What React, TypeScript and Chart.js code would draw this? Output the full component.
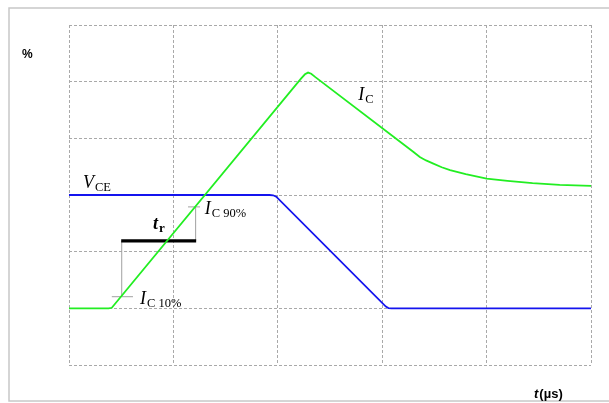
import React, { useEffect, useRef } from "react";
import { Chart, registerables } from "chart.js";

Chart.register(...registerables);

// grid units: x 0..5 (µs divisions), y 0..6 (% divisions)
const xRange = [0, 5];
const yRange = [0, 6];

// collector current I_C
const icX = [0, 0.38, 0.41, 2.22, 2.26, 2.29, 2.32, 2.36, 3.3, 3.36, 3.42, 3.49, 3.57, 3.65, 3.8, 4.0, 4.2, 4.44, 4.7, 5.0];
const icY = [1, 1, 1.01, 5.05, 5.13, 5.16, 5.14, 5.08, 3.76, 3.67, 3.61, 3.555, 3.49, 3.44, 3.37, 3.29, 3.25, 3.21, 3.18, 3.16];

// collector-emitter voltage V_CE
const vceX = [0, 1.92, 1.955, 1.985, 3.035, 3.06, 3.09, 5.0];
const vceY = [3, 3, 2.995, 2.97, 1.03, 1.005, 1, 1];

// annotation markers
const ic10Level = 1.205;
const ic90Level = 2.79;
const trLevel = 2.19;
const trStart = 0.5;
const trEnd = 1.218;
const tick10 = [0.41, 0.613];
const tick90 = [1.14, 1.255];

const toPts = (xs: number[], ys: number[]) => xs.map((x, i) => ({ x, y: ys[i] }));

export default function App() {
  const ref = useRef<HTMLCanvasElement | null>(null);
  useEffect(() => {
    if (!ref.current) return;
    const gridColor = "#a9a9a9";
    const gray = "#a0a0a0";
    const textPlugin = {
      id: "labels",
      afterDraw(chart: any) {
        const ctx = chart.ctx;
        const xs = chart.scales.x;
        const ys = chart.scales.y;
        const px = (v: number) => xs.getPixelForValue(v);
        const py = (v: number) => ys.getPixelForValue(v);
        ctx.save();
        // outer frame
        ctx.strokeStyle = "#c8c8c8";
        ctx.lineWidth = 1.5;
        ctx.strokeRect(9, 8, 700, 393);
        ctx.fillStyle = "#000";
        ctx.textBaseline = "alphabetic";
        ctx.textAlign = "left";
        const sym = (main: string, sub: string, x: number, y: number, bold = false) => {
          ctx.font = (bold ? "italic bold 18px" : "italic 18px") + " 'Liberation Serif'";
          ctx.fillText(main, x, y);
          const w = ctx.measureText(main).width;
          ctx.font = (bold ? "bold 13px" : "12.5px") + " 'Liberation Serif'";
          ctx.fillText(sub, x + w + 1, y + 3);
        };
        sym("V", "CE", px(0.134), py(3.12));
        sym("I", "C", px(2.77), py(4.67));
        sym("I", "C 90%", px(1.3), py(2.66));
        sym("I", "C 10%", px(0.68), py(1.076));
        sym("t", "r", px(0.805), py(2.4), true);
        // axis labels
        ctx.font = "bold 12px 'Liberation Sans'";
        ctx.fillText("%", 22, 58);
        ctx.font = "italic bold 13px 'Liberation Sans'";
        ctx.fillText("t", 534, 398);
        const tw = ctx.measureText("t").width;
        ctx.font = "bold 13px 'Liberation Sans'";
        ctx.fillText("(µs)", 534 + tw + 1, 398);
        ctx.restore();
      },
    };
    const seg = (pts: { x: number; y: number }[], color: string, width: number, order: number) => ({
      data: pts,
      showLine: true,
      borderColor: color,
      backgroundColor: color,
      borderWidth: width,
      pointRadius: 0,
      tension: 0,
      order,
    });
    const chart = new Chart(ref.current, {
      type: "scatter",
      data: {
        datasets: [
          seg(toPts(icX, icY), "#22ee22", 1.8, 1),
          seg(toPts(vceX, vceY), "#1414ee", 1.8, 2),
          seg([{ x: trStart, y: trLevel }, { x: trEnd, y: trLevel }], "#000000", 3.2, 3),
          seg([{ x: tick10[0], y: ic10Level }, { x: tick10[1], y: ic10Level }], gray, 1, 4),
          seg([{ x: trStart + 0.005, y: ic10Level }, { x: trStart + 0.005, y: trLevel }], gray, 1, 4),
          seg([{ x: tick90[0], y: ic90Level }, { x: tick90[1], y: ic90Level }], gray, 1, 4),
          seg([{ x: trEnd - 0.005, y: trLevel }, { x: trEnd - 0.005, y: ic90Level }], gray, 1, 4),
        ] as any,
      },
      options: {
        animation: false,
        responsive: false,
        maintainAspectRatio: false,
        layout: { padding: { left: 69, top: 25, right: 18, bottom: 38 } },
        plugins: { legend: { display: false }, tooltip: { enabled: false } },
        scales: {
          x: {
            type: "linear",
            min: xRange[0],
            max: xRange[1],
            ticks: { display: false, stepSize: 1 },
            grid: { color: gridColor, drawTicks: false, lineWidth: 1 },
            border: { display: false, color: gridColor, dash: [3, 2], width: 1 },
          },
          y: {
            type: "linear",
            min: yRange[0],
            max: yRange[1],
            ticks: { display: false, stepSize: 1 },
            grid: { color: gridColor, drawTicks: false, lineWidth: 1 },
            border: { display: false, color: gridColor, dash: [3, 2], width: 1 },
          },
        },
      } as any,
      plugins: [textPlugin],
    });
    return () => chart.destroy();
  }, []);
  return (
    <div style={{ position: "fixed", left: 0, top: 0, width: 609, height: 403, background: "#fff" }}>
      <canvas ref={ref} width={609} height={403} />
    </div>
  );
}
